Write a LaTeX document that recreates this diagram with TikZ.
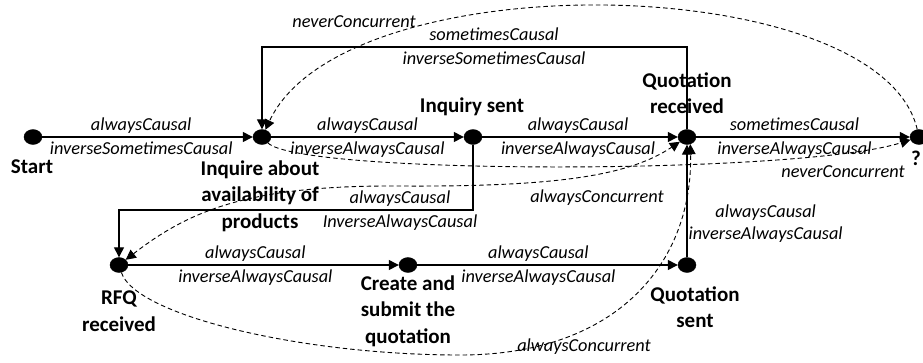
\documentclass[tikz,border=0pt]{standalone}
\usepackage{fontspec}
\setmainfont{Carlito}
\usepackage{tikz}
\usetikzlibrary{shapes.geometric,
                calc, %for relative coord calculations
                arrows.meta, % for triangle tips
                positioning}

\begin{document}
\begin{tikzpicture}[x=1pt, y=-1pt,
                    >={Triangle[length=10pt, width=10pt]},
                    Event/.style={draw, ellipse, fill=black, inner sep=0pt, minimum width=18pt, minimum height=15pt},
                    EventName/.style={font=\fontsize{21}{26.5}\selectfont\bfseries, align=center, inner sep=0pt},
                    Rel/.style={font=\fontsize{18.3}{22}\selectfont\itshape, inner sep=1pt, text height=12.5pt, text depth=3.5pt},
                    RelTwo/.style={font=\fontsize{18.3}{22}\selectfont\itshape, inner sep=1pt, align=center},
                    over/.style={Rel, above=1pt},
                    under/.style={Rel, below=3pt},
                    flow/.style={line width=1.3pt, ->},
                    conc/.style={line width=0.9pt, dash pattern=on 4.5pt off 3pt, ->}
                    ]
    \useasboundingbox (0,0) rectangle (923,362);

    % EVENTS %
    \node[Event] (start)  at (33,137)  {};
    \node[Event] (inq)    at (262,137) {};
    \node[Event] (isent)  at (473,137) {};
    \node[Event] (qrec)   at (687,137) {};
    \node[Event] (unk)    at (919,137) {};
    \node[Event] (rfq)    at (119,265) {};
    \node[Event] (create) at (408,265) {};
    \node[Event] (qsent)  at (687,265) {};

    \node[EventName] (startname)  at (32,167)  {Start};
    \node[EventName] (inqname)    at (260,196) {Inquire about\\availability of\\products};
    \node[EventName] (isentname)  at (472,107) {Inquiry sent};
    \node[EventName] (qrecname)   at (687,93)  {Quotation\\received};
    \node[EventName] (unkname)    at (916,158) {?};
    \node[EventName] (rfqname)    at (119,311) {RFQ\\received};
    \node[EventName] (createname) at (408,311) {Create and\\submit the\\quotation};
    \node[EventName] (qsentname)  at (695,307) {Quotation\\sent};

    % CAUSAL FLOW %
    \draw[flow] (start) -- node[over, pos=0.47]{alwaysCausal} node[under, pos=0.47]{inverseSometimesCausal} (inq);
    \draw[flow] (inq) -- node[over]{alwaysCausal} node[under]{inverseAlwaysCausal} (isent);
    \draw[flow] (isent) -- node[over, pos=0.49]{alwaysCausal} node[under, pos=0.49]{inverseAlwaysCausal} (qrec);
    \draw[flow] (qrec) -- node[over, pos=0.46]{sometimesCausal} node[under, pos=0.46]{inverseAlwaysCausal} (unk);
    \draw[flow] (rfq) -- node[over, pos=0.47]{alwaysCausal} node[under, pos=0.47]{inverseAlwaysCausal} (create);
    \draw[flow] (create) -- node[over, pos=0.465]{alwaysCausal} node[under, pos=0.465]{inverseAlwaysCausal} (qsent);
    \draw[flow] (qsent) -- node[RelTwo, right, pos=0.3]{alwaysCausal\\inverseAlwaysCausal} (qrec);

    \coordinate (looptop) at (494,47);
    \draw[flow] (qrec) |- (looptop) node[over]{sometimesCausal} node[under]{inverseSometimesCausal} -| (inq);

    \coordinate (dropbar) at (400,210);
    \draw[flow] (isent) |- (dropbar) node[over]{alwaysCausal} node[under]{InverseAlwaysCausal} -| (rfq);

    % CONCURRENCY %
    \draw[conc] (unk) .. controls (880,-30) and (345,-40) .. (inq);
    \draw[conc] (inq) .. controls (300,175) and (800,175) .. (unk);
    \draw[conc, <->] (rfq) .. controls (190,210) and (250,185) .. (400,186) .. controls (560,187) and (630,175) .. (qrec);
    \draw[conc] (rfq) .. controls (135,315) and (300,355) .. (460,355) .. controls (620,355) and (693,260) .. (qrec.-65);

    \node[Rel] (nevertop) at (354,23)  {neverConcurrent};
    \node[Rel] (neverbot) at (843,173) {neverConcurrent};
    \node[Rel] (alwaystop) at (597,198) {alwaysConcurrent};
    \node[Rel] (alwaysbot) at (584,347) {alwaysConcurrent};

\end{tikzpicture}
\end{document}
